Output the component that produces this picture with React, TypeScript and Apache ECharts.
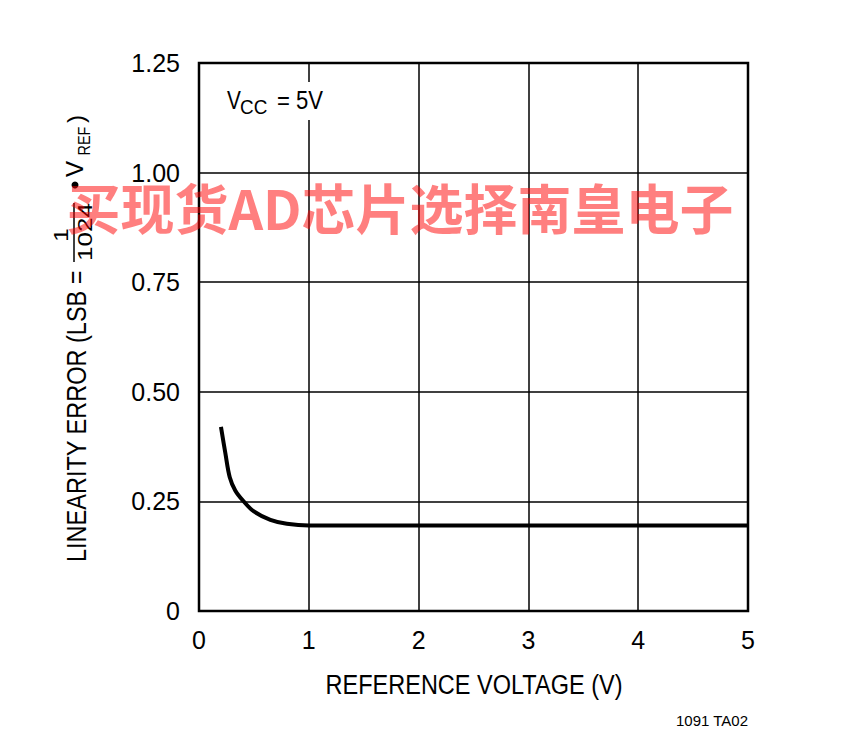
import React, { useEffect, useRef } from "react";
import * as echarts from "echarts";

const xTicks = [0, 1, 2, 3, 4, 5];
const yTicks = [0, 0.25, 0.5, 0.75, 1.0, 1.25];
const curveX = [0.2, 0.24, 0.28, 0.33, 0.4, 0.5, 0.65, 0.8, 1.0, 1.5, 5.0];
const curveY = [0.42, 0.36, 0.305, 0.275, 0.252, 0.227, 0.208, 0.199, 0.195, 0.195, 0.195];

const xTitle = "REFERENCE VOLTAGE (V)";
const yTitleMain = "LINEARITY ERROR (LSB =";
const note = "1091 TA02";
const watermark = "买现货AD芯片选择南皇电子";

const FONT = "'Liberation Sans', Arial, Helvetica, sans-serif";

export default function App() {
  const ref = useRef<HTMLDivElement>(null);
  useEffect(() => {
    if (!ref.current) return;
    const chart = echarts.init(ref.current, null, { renderer: "svg" });
    const R = Math.PI / 2;
    const txt = (text: string, x: number, y: number, size: number, opts: any = {}) => ({
      type: "text",
      x,
      y,
      rotation: opts.rotation || 0,
      scaleX: opts.scaleX || 1,
      z: 10,
      style: {
        text,
        fontSize: size,
        fontFamily: FONT,
        fill: "#000",
        align: opts.align || "left",
        verticalAlign: "middle",
      },
    });
    chart.setOption({
      animation: false,
      backgroundColor: "#fff",
      grid: {
        left: 199,
        top: 63,
        width: 549,
        height: 548,
        show: true,
        borderColor: "#000",
        borderWidth: 2.5,
        backgroundColor: "transparent",
      },
      xAxis: {
        type: "value",
        min: xTicks[0],
        max: xTicks[xTicks.length - 1],
        interval: 1,
        axisLine: { show: false },
        axisTick: { show: false },
        axisLabel: { color: "#000", fontSize: 25, fontFamily: FONT, margin: 16 },
        splitLine: { show: true, lineStyle: { color: "#000", width: 1.5 } },
      },
      yAxis: {
        type: "value",
        min: yTicks[0],
        max: yTicks[yTicks.length - 1],
        interval: 0.25,
        axisLine: { show: false },
        axisTick: { show: false },
        axisLabel: {
          color: "#000",
          fontSize: 25,
          fontFamily: FONT,
          margin: 19,
          formatter: (v: number) => (v === 0 ? "0" : v.toFixed(2)),
        },
        splitLine: { show: true, lineStyle: { color: "#000", width: 1.5 } },
      },
      series: [
        {
          type: "line",
          data: curveX.map((x, i) => [x, curveY[i]]),
          smooth: 0.35,
          showSymbol: false,
          lineStyle: { color: "#000", width: 4 },
        },
      ],
      graphic: [
        txt(xTitle, 474, 684, 28, { align: "center", scaleX: 0.84 }),
        txt(note, 748, 720, 15, { align: "right" }),
        // VCC label
        {
          type: "rect",
          z: 5,
          shape: { x: 222, y: 82, width: 110, height: 38 },
          style: { fill: "#fff" },
        },
        txt("V", 227, 100, 26, { scaleX: 0.8 }),
        txt("CC", 240, 107, 21, { scaleX: 0.9 }),
        txt("= 5V", 277, 100, 26, { scaleX: 0.85 }),
        // Y title (rotated)
        txt(yTitleMain, 76, 562, 28, { rotation: R, scaleX: 0.84 }),
        txt("1", 61, 235, 20, { rotation: R, align: "center", scaleX: 1.2 }),
        txt("1024", 85, 232, 20, { rotation: R, align: "center", scaleX: 1.3 }),
        {
          type: "line",
          z: 10,
          shape: { x1: 74, y1: 203, x2: 74, y2: 262 },
          style: { stroke: "#000", lineWidth: 1.5 },
        },
        { type: "circle", z: 10, shape: { cx: 75, cy: 185, r: 3.5 }, style: { fill: "#000" } },
        txt("V", 74, 169, 24, { rotation: R, align: "center" }),
        txt("REF", 84, 141, 17, { rotation: R, align: "center", scaleX: 0.85 }),
        txt(")", 75, 119, 24, { rotation: R, align: "center" }),
        // watermark
        {
          type: "text",
          x: 400,
          y: 206,
          z: 20,
          style: {
            text: watermark,
            fontSize: 54,
            fontWeight: "bold",
            fontFamily: "'Noto Sans CJK SC', sans-serif",
            fill: "rgba(255,0,0,0.5)",
            align: "center",
            verticalAlign: "middle",
          },
        },
      ],
    });
    return () => chart.dispose();
  }, []);
  return (
    <div
      ref={ref}
      style={{ position: "fixed", left: 0, top: 0, width: 855, height: 735 }}
    />
  );
}
